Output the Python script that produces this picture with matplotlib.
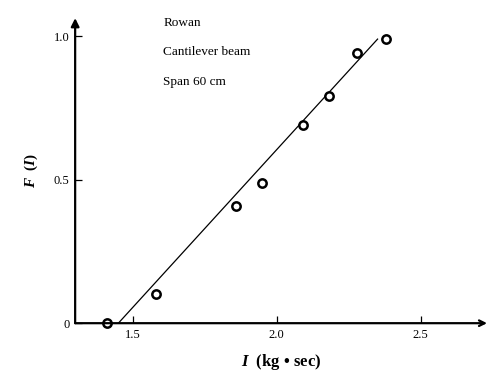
import matplotlib
matplotlib.use("Agg")
import matplotlib.pyplot as plt

# data
impulse = [1.41, 1.58, 1.86, 1.95, 2.09, 2.18, 2.28, 2.38]
f_values = [0.00, 0.10, 0.41, 0.49, 0.69, 0.79, 0.94, 0.99]
fit_x = [1.45, 2.35]
fit_y = [0.00, 0.99]
x_ticks = [1.5, 2.0, 2.5]
x_tick_labels = ["1.5", "2.0", "2.5"]
y_ticks = [0, 0.5, 1.0]
y_tick_labels = ["0", "0.5", "1.0"]
notes = ["Rowan", "Cantilever beam", "Span 60 cm"]

plt.rcParams['font.family'] = ['Liberation Serif', 'DejaVu Serif']
plt.rcParams['mathtext.fontset'] = 'custom'
plt.rcParams['mathtext.it'] = 'Liberation Serif:italic:bold'
plt.rcParams['mathtext.rm'] = 'Liberation Serif'
plt.rcParams['mathtext.bf'] = 'Liberation Serif:bold'

fig = plt.figure(figsize=(4.88, 3.78), dpi=100)
ax = fig.add_axes([0.154, 0.145, 0.844, 0.807])
ax.set_xlim(1.3, 2.73)
ax.set_ylim(0, 1.063)

ax.plot(fit_x, fit_y, color='black', lw=0.9)
ax.plot(impulse, f_values, 'o', ms=6, mfc='white', mec='black', mew=1.8,
        zorder=3, clip_on=False)

for s in ['top', 'right', 'left', 'bottom']:
    ax.spines[s].set_visible(False)
# axes with arrows
ax.annotate('', xy=(1.0, 0), xytext=(0, 0), xycoords='axes fraction',
            arrowprops=dict(arrowstyle='->', lw=1.6, color='black', shrinkA=0, shrinkB=0))
ax.annotate('', xy=(0, 1.0), xytext=(0, 0), xycoords='axes fraction',
            arrowprops=dict(arrowstyle='-|>', lw=1.6, color='black', shrinkA=0, shrinkB=0,
                            mutation_scale=12))

ax.set_xticks(x_ticks)
ax.set_xticklabels(x_tick_labels)
ax.set_yticks(y_ticks)
ax.set_yticklabels(y_tick_labels)
ax.tick_params(direction='in', length=5, width=0.9, labelsize=9, pad=4)

ax.set_xlabel('$I$  (kg • sec)', fontsize=12, fontweight='bold', labelpad=8)
ax.set_ylabel('$F$  ($I$)', fontsize=11, fontweight='bold', labelpad=10)

for i, t in enumerate(notes):
    ax.text(0.214, 0.985 - i * 0.097, t, transform=ax.transAxes, fontsize=9.5,
            va='center', ha='left')

fig.savefig('out.png', dpi=100)
